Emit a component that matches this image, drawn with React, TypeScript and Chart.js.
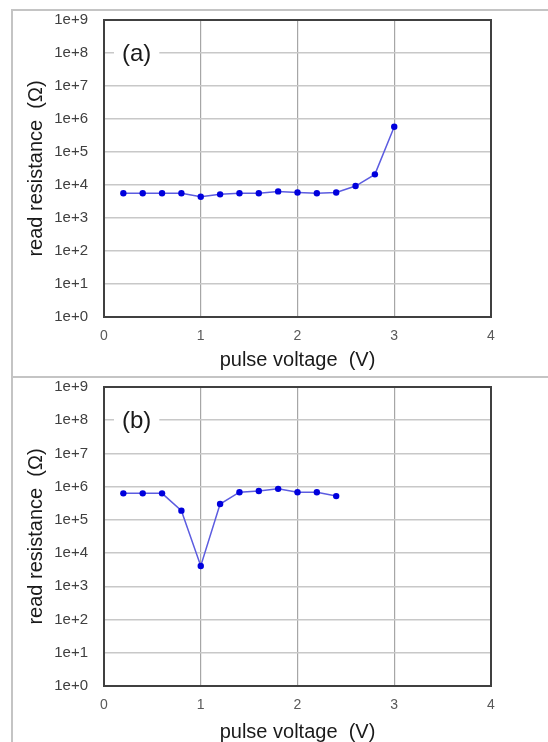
import React, { useEffect, useRef } from "react";
import { Chart, registerables } from "chart.js";

Chart.register(...registerables);

// ---- data ----
const voltagesA = [0.2, 0.4, 0.6, 0.8, 1.0, 1.2, 1.4, 1.6, 1.8, 2.0, 2.2, 2.4, 2.6, 2.8, 3.0];
const resistanceA = [5600, 5600, 5600, 5600, 4400, 5200, 5600, 5600, 6400, 5900, 5600, 5900, 9300, 21000, 580000];

const voltagesB = [0.2, 0.4, 0.6, 0.8, 1.0, 1.2, 1.4, 1.6, 1.8, 2.0, 2.2, 2.4];
const resistanceB = [630000, 630000, 630000, 190000, 4100, 300000, 680000, 740000, 860000, 680000, 680000, 520000];

const yTickValues = [1e0, 1e1, 1e2, 1e3, 1e4, 1e5, 1e6, 1e7, 1e8, 1e9];
const yTickLabels = ["1e+0", "1e+1", "1e+2", "1e+3", "1e+4", "1e+5", "1e+6", "1e+7", "1e+8", "1e+9"];
const xTickValues = [0, 1, 2, 3, 4];

const xTitle = "pulse voltage  (V)";
const yTitle = "read resistance  (Ω)";

const FONT = 'Arial, "Liberation Sans", sans-serif';

const framePlugin = {
  id: "frameAndLabel",
  afterDraw(chart: any, _args: any, opts: any) {
    const { ctx, chartArea } = chart;
    const { left, top, right, bottom } = chartArea;
    ctx.save();
    ctx.strokeStyle = "#404040";
    ctx.lineWidth = 2;
    ctx.strokeRect(left, top, right - left, bottom - top);
    const text = opts.text as string;
    if (text) {
      const y = chart.scales.y.getPixelForValue(1e8);
      ctx.font = `24px ${FONT}`;
      const w = ctx.measureText(text).width;
      ctx.fillStyle = "#ffffff";
      ctx.fillRect(left + 10, y - 15, w + 16, 30);
      ctx.fillStyle = "#1a1a1a";
      ctx.textBaseline = "middle";
      ctx.textAlign = "left";
      ctx.fillText(text, left + 18, y + 1);
    }
    ctx.restore();
  },
};

function makeConfig(xs: number[], ys: number[], label: string, padTop: number, axisHeight: number, titlePadBottom: number) {
  return {
    type: "line" as const,
    data: {
      datasets: [
        {
          data: xs.map((x, i) => ({ x, y: ys[i] })),
          borderColor: "#5c5ce0",
          borderWidth: 1.5,
          pointBackgroundColor: "#0000dd",
          pointBorderColor: "#0000dd",
          pointRadius: 3.2,
          pointBorderWidth: 0,
          tension: 0,
        },
      ],
    },
    options: {
      animation: false as const,
      responsive: false,
      maintainAspectRatio: false,
      layout: { padding: { left: 24, right: 57, top: padTop, bottom: 0 } },
      plugins: {
        legend: { display: false },
        tooltip: { enabled: false },
        frameAndLabel: { text: label },
      },
      scales: {
        x: {
          type: "linear" as const,
          min: 0,
          max: 4,
          afterBuildTicks: (scale: any) => {
            scale.ticks = xTickValues.map((v) => ({ value: v }));
          },
          afterFit: (scale: any) => {
            scale.height = axisHeight;
            scale.paddingLeft = 0;
            scale.paddingRight = 0;
          },
          ticks: {
            padding: 11,
            color: "#595959",
            font: { family: FONT, size: 14 },
            callback: (v: any) => String(v),
          },
          grid: { color: "#a6a6a6", lineWidth: 1.2, drawTicks: false },
          border: { display: false },
          title: {
            display: true,
            text: xTitle,
            color: "#1a1a1a",
            font: { family: FONT, size: 20 },
            padding: { top: 0, bottom: titlePadBottom },
          },
        },
        y: {
          type: "logarithmic" as const,
          min: 1,
          max: 1e9,
          afterBuildTicks: (scale: any) => {
            scale.ticks = yTickValues.map((v) => ({ value: v }));
          },
          afterFit: (scale: any) => {
            scale.width = 80;
            scale.paddingTop = 0;
            scale.paddingBottom = 0;
          },
          ticks: {
            padding: 16,
            color: "#404040",
            font: { family: FONT, size: 15 },
            callback: (v: any) => {
              const i = yTickValues.indexOf(Number(v));
              return i >= 0 ? yTickLabels[i] : "";
            },
          },
          grid: { color: "#c8c8c8", lineWidth: 1.5, drawTicks: false },
          border: { display: false },
          title: {
            display: true,
            text: yTitle,
            color: "#1a1a1a",
            font: { family: FONT, size: 20 },
            padding: { top: 0, bottom: 0 },
          },
        },
      },
    },
    plugins: [framePlugin],
  };
}

function Panel(props: { xs: number[]; ys: number[]; label: string; top: number; height: number; padTop: number; axisHeight: number; titlePadBottom: number }) {
  const ref = useRef<HTMLCanvasElement | null>(null);
  useEffect(() => {
    if (!ref.current) return;
    const chart = new Chart(ref.current, makeConfig(props.xs, props.ys, props.label, props.padTop, props.axisHeight, props.titlePadBottom) as any);
    return () => chart.destroy();
  }, []);
  return (
    <canvas
      ref={ref}
      width={548}
      height={props.height}
      style={{ position: "absolute", left: 0, top: props.top, width: 548, height: props.height }}
    />
  );
}

export default function App() {
  return (
    <div style={{ position: "fixed", left: 0, top: 0, width: 548, height: 742, background: "#ffffff", overflow: "hidden" }}>
      {/* panel frame lines */}
      <div style={{ position: "absolute", left: 12, top: 9, width: 536, height: 2, background: "#c4c4c4" }} />
      <div style={{ position: "absolute", left: 11, top: 9, width: 2, height: 733, background: "#c4c4c4" }} />
      <div style={{ position: "absolute", left: 12, top: 376, width: 536, height: 2, background: "#c4c4c4" }} />
      <Panel xs={voltagesA} ys={resistanceA} label="(a)" top={0} height={377} padTop={20} axisHeight={60} titlePadBottom={5} />
      <Panel xs={voltagesB} ys={resistanceB} label="(b)" top={377} height={365} padTop={10} axisHeight={56} titlePadBottom={-2} />
    </div>
  );
}
